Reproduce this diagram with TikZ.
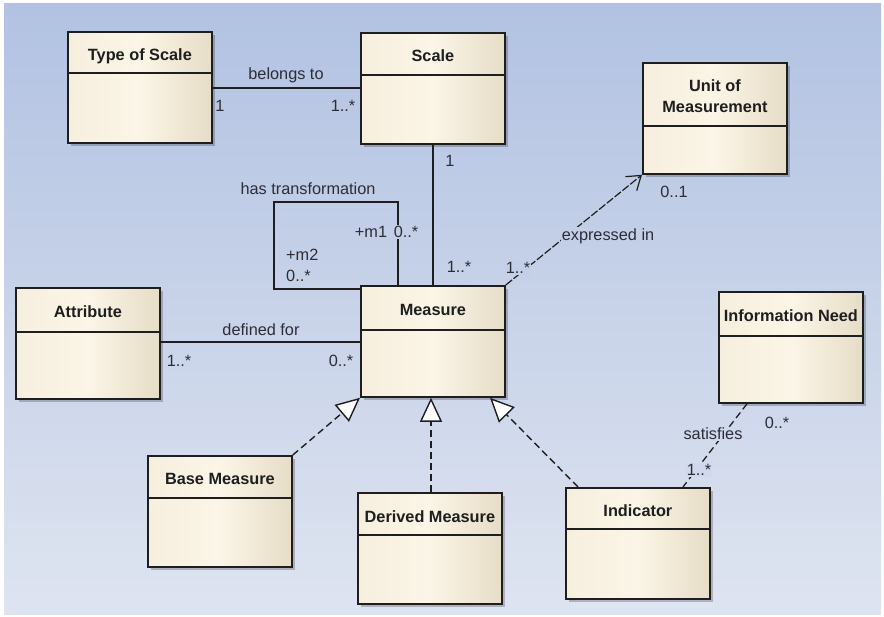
\documentclass[tikz,border=0pt]{standalone}
\usepackage{fontspec}
\setmainfont{Liberation Sans}
\usetikzlibrary{arrows.meta,shadows,calc}
\definecolor{bgtop}{RGB}{178,194,226}
\definecolor{bgbot}{RGB}{222,228,240}
\definecolor{bgA}{RGB}{194,207,231}
\definecolor{bgB}{RGB}{208,217,236}
\definecolor{creamL}{RGB}{246,239,222}
\definecolor{creamM}{RGB}{251,245,231}
\definecolor{creamR}{RGB}{230,221,199}
\definecolor{edge}{RGB}{30,30,30}
\definecolor{lbl}{RGB}{45,45,55}
\tikzset{
  cls/.style={draw=edge, line width=1.8pt, rectangle, inner sep=0pt,
    minimum width=144pt, minimum height=111pt, anchor=north west,
    left color=creamL, right color=creamR, middle color=creamM,
    drop shadow={shadow xshift=3pt, shadow yshift=-3pt, opacity=0.22, fill=black}},
  divline/.style={draw=edge, line width=1.8pt},
  ttl/.style={font=\fontsize{16.3}{19.5}\selectfont\bfseries, text=edge, inner sep=0pt, anchor=base},
  lab/.style={font=\fontsize{16.3}{18}\selectfont, text=lbl, inner sep=1pt},
  assoc/.style={draw=edge, line width=1.4pt},
  nav/.style={draw=edge, line width=1.2pt, dash pattern=on 8pt off 2pt,
    -{Straight Barb[length=13pt,width=18pt,line width=1.2pt]}},
  dsh/.style={draw=edge, line width=1.3pt, dash pattern=on 7pt off 4pt},
  real/.style={draw=edge, line width=1.4pt, dash pattern=on 7pt off 4pt,
    -{Triangle[length=24pt,width=22pt,fill=white,line width=1.4pt]}},
}
\newcommand\umlcls[5]{%
  \node[cls] (#1) at (#2,#3) {};
  \draw[divline] ([yshift=-#4pt]#1.north west) -- ([yshift=-#4pt]#1.north east);
  \node[ttl] (#1-t) at ([yshift=-#4pt/2-8.5pt]#1.north) {#5};
}
\begin{document}
\begin{tikzpicture}[x=1pt,y=-1pt]
\useasboundingbox (0,0) rectangle (884,617);
\fill[white] (0,0) rectangle (884,617);
\shade[top color=bgtop, bottom color=bgbot] (4,4) rectangle (881,614);

% classes
\umlcls{ts}{67}{31}{42}{Type of Scale}
\umlcls{sc}{360}{32}{43}{Scale}
\umlcls{um}{642}{62}{64}{}
\node[ttl] (um-t1) at ([yshift=-30pt]um.north) {Unit of};
\node[ttl] (um-t2) at ([yshift=-51pt]um.north) {Measurement};
\umlcls{me}{360}{285}{45}{Measure}
\umlcls{at}{15}{287}{45}{Attribute}
\umlcls{bm}{147}{455}{43}{Base Measure}
\umlcls{dm}{357}{492}{43}{Derived Measure}
\umlcls{in}{565}{487}{42}{Indicator}
\umlcls{inf}{718}{291}{45}{Information Need}

% Type of Scale -- Scale
\draw[assoc] (ts.east |- 0,88) -- (sc.west |- 0,88);
\node[lab] at (286,75) {belongs to};
\node[lab] at (220,106) {1};
\node[lab] at (343,106) {1..*};

% Scale -- Measure
\draw[assoc] (sc.south -| 433,0) -- (me.north -| 433,0);
\node[lab] at (450,161) {1};
\node[lab] at (459,267) {1..*};

% self association
\coordinate (l1) at (398,202);
\coordinate (l2) at (274,202);
\coordinate (l3) at (274,289);
\draw[assoc] (me.north -| l1) -- (l1) -- (l2) -- (l3) -- (me.west |- l3);
\node[lab] at (308,189) {has transformation};
\node[lab] at (371,232) {+m1};
\node[lab, fill=bgA] at (406,232) {0..*};
\node[lab, anchor=west] at (285,255) {+m2};
\node[lab, anchor=west] at (285,276) {0..*};

% Measure -> Unit of Measurement
\draw[nav] (me.north east) -- (um.south west);
\node[lab, fill=bgA] at (608,236) {expressed in};
\node[lab, fill=bgA] at (518,268) {1..*};
\node[lab] at (674,192) {0..1};

% Attribute -- Measure
\draw[assoc] (at.east |- 0,342) -- (me.west |- 0,342);
\node[lab] at (261,330) {defined for};
\node[lab] at (179,361) {1..*};
\node[lab] at (341,361) {0..*};

% realizations
\draw[real] (bm.north east) -- (me.south west);
\draw[real] (dm.north -| 431,0) -- (me.south -| 431,0);
\draw[real] (in.north -| 578,0) -- (me.south -| 490,0);

% Information Need -- Indicator
\draw[dsh] (inf.south -| 747,0) -- (in.north -| 683,0);
\node[lab, fill=bgB] at (713,434) {satisfies};
\node[lab] at (777,423) {0..*};
\node[lab, fill=bgB] at (699,470) {1..*};
\end{tikzpicture}
\end{document}
